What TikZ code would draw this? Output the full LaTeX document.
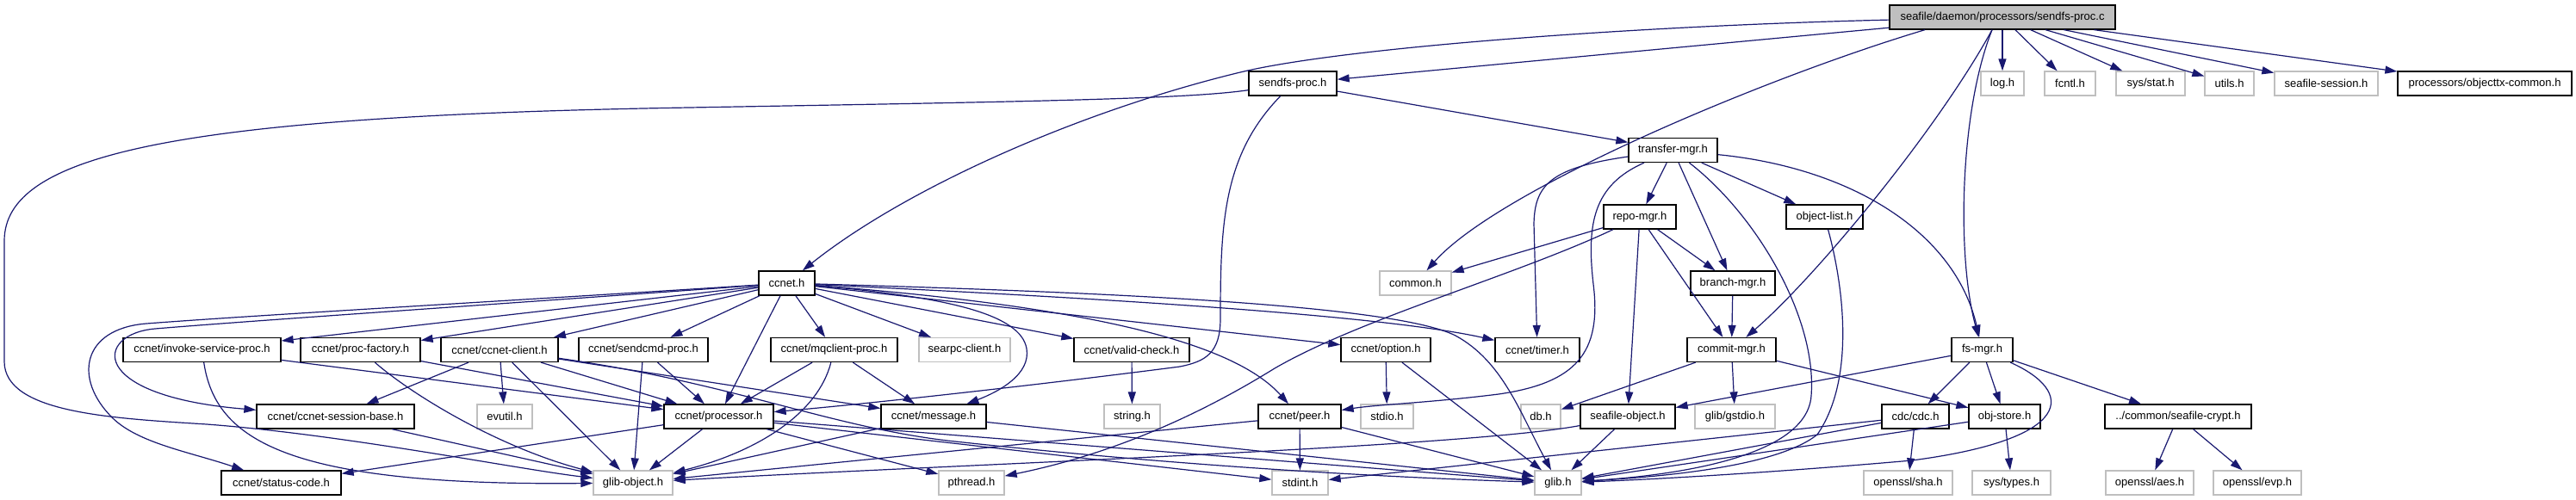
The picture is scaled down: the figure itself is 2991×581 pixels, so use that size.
\documentclass[tikz,border=0pt]{standalone}
\usepackage{fontspec}
\setmainfont{Liberation Sans}
\usepackage{xcolor}
\usetikzlibrary{arrows.meta}
\definecolor{edgeblue}{HTML}{191970}
\definecolor{grey75}{HTML}{BFBFBF}

\begin{document}
\begin{tikzpicture}[x=1pt, y=-1pt, >={Triangle[length=14pt, width=9pt]},
    hdr/.style={draw=black, line width=1.3pt, rectangle, inner sep=0pt,
        minimum height=28pt, font=\fontsize{13pt}{15pt}\selectfont},
    ext/.style={hdr, draw=grey75},
    dep/.style={->, edgeblue, line width=1.2pt}]
    \useasboundingbox (0,0) rectangle (2991,581);

    % the file itself
    \node[hdr, fill=grey75, minimum width=262pt] (top) at (2325,20) {seafile/daemon/processors/sendfs-proc.c};

    % first level
    \node[hdr, minimum width=102pt] (sendfsh) at (1501,97) {sendfs-proc.h};
    \node[ext, minimum width=50pt] (logh) at (2325,97) {log.h};
    \node[ext, minimum width=59pt] (fcntlh) at (2403.5,97) {fcntl.h};
    \node[ext, minimum width=80pt] (sysstat) at (2497,97) {sys/stat.h};
    \node[ext, minimum width=57pt] (utilsh) at (2588.5,97) {utils.h};
    \node[ext, minimum width=120pt] (sesh) at (2701,97) {seafile-session.h};
    \node[hdr, minimum width=202pt] (objtx) at (2885,97) {processors/objecttx-common.h};

    \node[hdr, minimum width=103pt] (transfer) at (1942.5,174.5) {transfer-mgr.h};
    \node[hdr, minimum width=84pt] (repo) at (1904,252) {repo-mgr.h};
    \node[hdr, minimum width=89pt] (objlist) at (2118.5,252) {object-list.h};

    \node[hdr, minimum width=65pt] (ccnet) at (913.5,329) {ccnet.h};
    \node[ext, minimum width=83pt] (common) at (1643.5,329) {common.h};
    \node[hdr, minimum width=98pt] (branch) at (2012,329) {branch-mgr.h};

    % middle row
    \node[hdr, minimum width=183pt] (invoke) at (234.5,406.5) {ccnet/invoke-service-proc.h};
    \node[hdr, minimum width=139pt] (procfac) at (418.5,406.5) {ccnet/proc-factory.h};
    \node[hdr, minimum width=136pt] (client) at (580,406.5) {ccnet/ccnet-client.h};
    \node[hdr, minimum width=150pt] (sendcmd) at (747,406.5) {ccnet/sendcmd-proc.h};
    \node[hdr, minimum width=147pt] (mqclient) at (968.5,406.5) {ccnet/mqclient-proc.h};
    \node[ext, minimum width=106pt] (searpc) at (1120,406.5) {searpc-client.h};
    \node[hdr, minimum width=134pt] (valid) at (1314,406.5) {ccnet/valid-check.h};
    \node[hdr, minimum width=104pt] (option) at (1609,406.5) {ccnet/option.h};
    \node[hdr, minimum width=98pt] (timer) at (1785,406.5) {ccnet/timer.h};
    \node[hdr, minimum width=103pt] (commit) at (2010.5,406.5) {commit-mgr.h};
    \node[hdr, minimum width=71pt] (fsmgr) at (2301.5,406.5) {fs-mgr.h};

    \node[hdr, minimum width=183pt] (sessbase) at (389.5,484) {ccnet/ccnet-session-base.h};
    \node[ext, minimum width=64pt] (evutil) at (586,484) {evutil.h};
    \node[hdr, minimum width=127pt] (processor) at (834.5,484) {ccnet/processor.h};
    \node[hdr, minimum width=122pt] (message) at (1084,484) {ccnet/message.h};
    \node[ext, minimum width=65pt] (stringh) at (1314.5,484) {string.h};
    \node[hdr, minimum width=96pt] (peer) at (1509,484) {ccnet/peer.h};
    \node[ext, minimum width=61pt] (stdioh) at (1610.5,484) {stdio.h};
    \node[ext, minimum width=46pt] (dbh) at (1789,484) {db.h};
    \node[hdr, minimum width=110pt] (sfobj) at (1890,484) {seafile-object.h};
    \node[ext, minimum width=93pt] (gstdio) at (2014.5,484) {glib/gstdio.h};
    \node[hdr, minimum width=78pt] (cdc) at (2224,484) {cdc/cdc.h};
    \node[hdr, minimum width=83pt] (objstore) at (2327.5,484) {obj-store.h};
    \node[hdr, minimum width=170pt] (crypt) at (2529,484) {../common/seafile-crypt.h};

    % system headers at the bottom
    \node[hdr, minimum width=139pt] (status) at (326.5,561) {ccnet/status-code.h};
    \node[ext, minimum width=92pt] (globj) at (735,561) {glib-object.h};
    \node[ext, minimum width=76pt] (pthread) at (1128,561) {pthread.h};
    \node[ext, minimum width=65pt] (stdint) at (1509.5,561) {stdint.h};
    \node[ext, minimum width=54pt] (glibh) at (1809,561) {glib.h};
    \node[ext, minimum width=103pt] (sha) at (2215.5,561) {openssl/sha.h};
    \node[ext, minimum width=91pt] (types) at (2335.5,561) {sys/types.h};
    \node[ext, minimum width=102pt] (aes) at (2496,561) {openssl/aes.h};
    \node[ext, minimum width=102pt] (evp) at (2621,561) {openssl/evp.h};

    % includes of the file itself
    \draw[dep] (top) -- (sendfsh);
    \draw[dep] (top) .. controls (1900,30) and (1560,55) .. (1440,84)
        .. controls (1250,130) and (1050,220) .. (ccnet);
    \draw[dep] ([xshift=-90pt]top.south) .. controls (2050,90) and (1740,220) .. (common);
    \draw[dep] ([xshift=-12pt]top.south) .. controls (2250,150) and (2110,320) .. (commit);
    \draw[dep] ([xshift=-12pt]top.south) .. controls (2275,130) and (2272,300) .. (fsmgr);
    \draw[dep] (top) -- (logh);
    \draw[dep] (top) -- (fcntlh);
    \draw[dep] (top) -- (sysstat);
    \draw[dep] (top) -- (utilsh);
    \draw[dep] (top) -- (sesh);
    \draw[dep] (top) -- (objtx);

    % sendfs-proc.h
    \draw[dep] (sendfsh) -- (transfer);
    \draw[dep] (sendfsh) .. controls (1420,180) and (1417,260) .. (1417,370)
        .. controls (1417,410) and (1400,420) .. (1370,426)
        .. controls (1200,448) and (1000,470) .. (processor);
    \draw[dep] (sendfsh) .. controls (1380,115) and (1200,118) .. (800,125)
        .. controls (200,135) and (5,180) .. (5,280) -- (5,420)
        .. controls (5,480) and (130,486) .. (240,493)
        .. controls (400,505) and (600,545) .. (globj);

    % transfer-mgr.h
    \draw[dep] (transfer) -- (repo);
    \draw[dep] (transfer) -- (objlist);
    \draw[dep] (transfer) -- (branch);
    \draw[dep] (transfer) .. controls (1800,195) and (1782,215) .. (1781,260) -- (timer);
    \draw[dep] (transfer) .. controls (1850,215) and (1842,260) .. (1850,330)
        .. controls (1860,410) and (1830,445) .. (1740,458)
        .. controls (1660,468) and (1600,470) .. (peer);
    \draw[dep] (transfer) .. controls (2040,250) and (2110,370) .. (2103,460)
        .. controls (2098,530) and (1950,552) .. (glibh);
    \draw[dep] (transfer) .. controls (2150,195) and (2270,270) .. (fsmgr);

    % repo-mgr.h, object-list.h, branch-mgr.h
    \draw[dep] (repo) -- (common);
    \draw[dep] (repo) .. controls (1760,320) and (1580,370) .. (1480,428)
        .. controls (1380,490) and (1280,530) .. (pthread);
    \draw[dep] (repo) -- (sfobj);
    \draw[dep] (repo) -- (commit);
    \draw[dep] (repo) -- (branch);
    \draw[dep] (objlist) .. controls (2140,330) and (2155,440) .. (2110,505)
        .. controls (2060,545) and (1910,555) .. (glibh);
    \draw[dep] (branch) -- (commit);

    % commit-mgr.h, fs-mgr.h
    \draw[dep] (commit) -- (dbh);
    \draw[dep] (commit) -- (gstdio);
    \draw[dep] (commit) -- (objstore);
    \draw[dep] (fsmgr) -- (cdc);
    \draw[dep] (fsmgr) -- (objstore);
    \draw[dep] (fsmgr) -- (crypt);
    \draw[dep] (fsmgr) -- (sfobj);
    \draw[dep] (fsmgr) .. controls (2410,455) and (2410,510) .. (2220,535)
        .. controls (2050,550) and (1900,558) .. (glibh);

    % lower seafile headers
    \draw[dep] (cdc) -- (stdint);
    \draw[dep] (cdc) -- (glibh);
    \draw[dep] (cdc) -- (sha);
    \draw[dep] (objstore) -- (glibh);
    \draw[dep] (objstore) -- (types);
    \draw[dep] (crypt) -- (aes);
    \draw[dep] (crypt) -- (evp);
    \draw[dep] (sfobj) -- (glibh);
    \draw[dep] (sfobj) .. controls (1700,520) and (1100,540) .. (globj);

    % ccnet.h
    \draw[dep] (ccnet) .. controls (1250,345) and (1600,365) .. (timer);
    \draw[dep] (ccnet) .. controls (1300,340) and (1620,355) .. (1690,390)
        .. controls (1745,420) and (1765,480) .. (glibh);
    \draw[dep] (ccnet) -- (option);
    \draw[dep] (ccnet) .. controls (1250,355) and (1430,395) .. (peer);
    \draw[dep] (ccnet) -- (valid);
    \draw[dep] (ccnet) -- (searpc);
    \draw[dep] (ccnet) .. controls (1100,345) and (1185,365) .. (1192,405)
        .. controls (1197,435) and (1160,455) .. (message);
    \draw[dep] (ccnet) -- (mqclient);
    \draw[dep] (ccnet) -- (processor);
    \draw[dep] (ccnet) -- (sendcmd);
    \draw[dep] (ccnet) -- (client);
    \draw[dep] (ccnet) -- (procfac);
    \draw[dep] (ccnet) -- (invoke);
    \draw[dep] (ccnet) .. controls (600,352) and (300,372) .. (180,382)
        .. controls (110,388) and (100,460) .. (sessbase);
    \draw[dep] (ccnet) .. controls (600,349) and (300,366) .. (170,376)
        .. controls (95,382) and (85,440) .. (130,485)
        .. controls (160,515) and (220,525) .. (status);

    % ccnet sub headers
    \draw[dep] (invoke) -- (processor);
    \draw[dep] (invoke) .. controls (250,510) and (330,565) .. (globj);
    \draw[dep] (procfac) -- (processor);
    \draw[dep] (procfac) .. controls (480,460) and (580,520) .. (globj);
    \draw[dep] (client) -- (sessbase);
    \draw[dep] (client) -- (evutil);
    \draw[dep] (client) -- (globj);
    \draw[dep] (client) -- (processor);
    \draw[dep] (client) -- (message);
    \draw[dep] (client) .. controls (850,445) and (960,495) .. (1100,512)
        .. controls (1400,545) and (1650,556) .. (glibh);
    \draw[dep] (sendcmd) -- (processor);
    \draw[dep] (sendcmd) -- (globj);
    \draw[dep] (mqclient) -- (processor);
    \draw[dep] (mqclient) -- (message);
    \draw[dep] (mqclient) .. controls (950,480) and (880,525) .. (globj);
    \draw[dep] (valid) -- (stringh);
    \draw[dep] (option) -- (stdioh);
    \draw[dep] (option) -- (glibh);
    \draw[dep] (sessbase) -- (globj);

    % processor.h, message.h, peer.h
    \draw[dep] (processor) -- (globj);
    \draw[dep] (processor) -- (status);
    \draw[dep] (processor) -- (pthread);
    \draw[dep] (processor) -- (stdint);
    \draw[dep] (processor) -- (glibh);
    \draw[dep] (message) -- (globj);
    \draw[dep] (message) -- (glibh);
    \draw[dep] (peer) -- (stdint);
    \draw[dep] (peer) -- (glibh);
    \draw[dep] (peer) -- (globj);
\end{tikzpicture}
\end{document}
